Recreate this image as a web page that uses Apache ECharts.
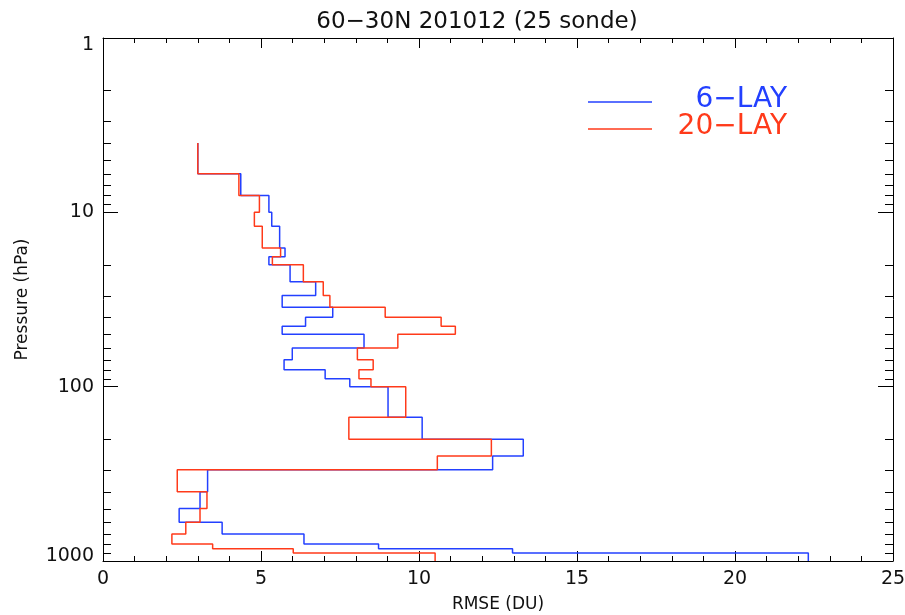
<!DOCTYPE html>
<html>
<head>
<meta charset="utf-8">
<script src="https://cdn.jsdelivr.net/npm/echarts@6/dist/echarts.min.js"></script>
<style>
html,body{margin:0;padding:0;background:#fff;}
#chart{width:905px;height:615px;}
</style>
</head>
<body>
<div id="chart"></div>
<script>
// Layer boundaries (hPa), top to bottom
const levels = [4,6,8,10,12,16,18,20,25,30,35,40,45,50,60,70,80,90,100,150,200,250,300,400,500,600,700,800,850,900,1000];
// RMSE per layer (DU)
const lay6 = [3.00,4.36,5.25,5.34,5.59,5.76,5.25,5.92,6.73,5.67,7.27,6.41,5.67,8.26,5.99,5.73,7.03,7.81,9.02,10.10,13.30,12.33,3.31,3.07,2.41,3.77,6.36,8.72,12.96,22.32];
const lay20 = [3.00,4.30,4.95,4.79,5.04,5.62,5.36,6.34,6.97,7.18,8.93,10.70,11.15,9.33,8.05,8.55,8.10,8.48,9.58,7.78,12.29,10.58,2.35,3.29,3.07,2.62,2.18,3.47,6.02,10.51];
const xTicks = [0,5,10,15,20,25];
const yMinorTicks = [2,3,4,5,6,7,8,9,20,30,40,50,60,70,80,90,200,300,400,500,600,700,800,900];
const seriesNames = ['6\u2212LAY','20\u2212LAY'];
const titleText = '60\u221230N 201012 (25 sonde)';

const BLUE = '#2340ff';
const RED = '#ff3a1a';
const FONT = 'DejaVu Sans';

function steps(vals){
  const pts = [];
  for (let i = 0; i < vals.length; i++){
    pts.push([vals[i], levels[i]]);
    pts.push([vals[i], levels[i+1]]);
  }
  return pts;
}

const chart = echarts.init(document.getElementById('chart'), null, {renderer:'canvas'});

const gridLeft = 103, gridRight = 12, gridTop = 38, gridBottom = 54;

const xAxisCommon = {
  type:'value', min:xTicks[0], max:xTicks[xTicks.length-1], interval:5,
  axisLine:{show:true, onZero:false, lineStyle:{color:'#000', width:1}},
  splitLine:{show:false},
  axisTick:{show:true, inside:true, length:10, lineStyle:{color:'#000'}},
  minorTick:{show:true, splitNumber:5, length:5, lineStyle:{color:'#000'}},
};
const yAxisCommon = {
  type:'log', logBase:10, min:1, max:1000, inverse:true,
  axisLine:{show:true, onZero:false, lineStyle:{color:'#000', width:1}},
  splitLine:{show:false},
  axisTick:{show:true, inside:true, length:15, lineStyle:{color:'#000'}},
};

const labelFont = {fontFamily:FONT, fontSize:19, color:'#111'};

const option = {
  backgroundColor:'#fff',
  animation:false,
  title:{
    text:titleText, left:472, top:6, textAlign:'center',
    textStyle:{fontFamily:FONT, fontSize:23, fontWeight:'normal', color:'#111'}
  },
  grid:{left:gridLeft, right:gridRight, top:gridTop, bottom:gridBottom, containLabel:false, outerBoundsMode:'none'},
  xAxis:[
    Object.assign({}, xAxisCommon, {
      position:'bottom',
      name:'RMSE (DU)', nameLocation:'middle', nameGap:35,
      nameTextStyle:{fontFamily:FONT, fontSize:17, color:'#111'},
      axisLabel:Object.assign({show:true, margin:9}, labelFont)
    }),
    Object.assign({}, xAxisCommon, {position:'top', axisLabel:{show:false}})
  ],
  yAxis:[
    Object.assign({}, yAxisCommon, {
      position:'left',
      name:'Pressure (hPa)', nameLocation:'middle', nameGap:72, nameRotate:90,
      nameTextStyle:{fontFamily:FONT, fontSize:17, color:'#111'},
      axisLabel:Object.assign({show:true, margin:9,
        formatter:function(v){
          const s = String(Math.round(v));
          if (Math.round(v) === 1) return '{lo|' + s + '}';
          if (Math.round(v) === 1000) return '{hi|' + s + '}';
          return s;
        },
        rich:{
          lo:Object.assign({padding:[14,0,0,0]}, labelFont),
          hi:Object.assign({padding:[0,0,10,0]}, labelFont)
        }
      }, labelFont)
    }),
    Object.assign({}, yAxisCommon, {position:'right', axisLabel:{show:false}})
  ],
  series:[
    {
      name:seriesNames[0], type:'line', data:steps(lay6),
      showSymbol:false, symbol:'none', clip:true,
      lineStyle:{color:BLUE, width:1.5}, itemStyle:{color:BLUE}
    },
    {
      name:seriesNames[1], type:'line', data:steps(lay20),
      showSymbol:false, symbol:'none', clip:true,
      lineStyle:{color:RED, width:1.5}, itemStyle:{color:RED}
    },
    {
      type:'custom', silent:true, clip:false,
      data:yMinorTicks.map(p => [0, p]),
      encode:{x:0, y:1},
      renderItem:function(params, api){
        const cs = params.coordSys;
        const y = Math.round(api.coord([0, api.value(1)])[1]) + 0.5;
        return {type:'group', children:[
          {type:'line', shape:{x1:cs.x, y1:y, x2:cs.x+8, y2:y}, style:{stroke:'#000', lineWidth:1}},
          {type:'line', shape:{x1:cs.x+cs.width, y1:y, x2:cs.x+cs.width-8, y2:y}, style:{stroke:'#000', lineWidth:1}}
        ]};
      }
    }
  ],
  graphic:[
    {type:'line', shape:{x1:588, y1:102, x2:652, y2:102}, style:{stroke:BLUE, lineWidth:1.5}},
    {type:'line', shape:{x1:588, y1:129, x2:652, y2:129}, style:{stroke:RED, lineWidth:1.5}},
    {type:'text', x:787, y:100, style:{text:seriesNames[0], fill:BLUE, font:'28px "DejaVu Sans"', textAlign:'right', textVerticalAlign:'middle'}},
    {type:'text', x:787, y:127, style:{text:seriesNames[1], fill:RED, font:'28px "DejaVu Sans"', textAlign:'right', textVerticalAlign:'middle'}}
  ]
};
chart.setOption(option);
</script>
</body>
</html>
